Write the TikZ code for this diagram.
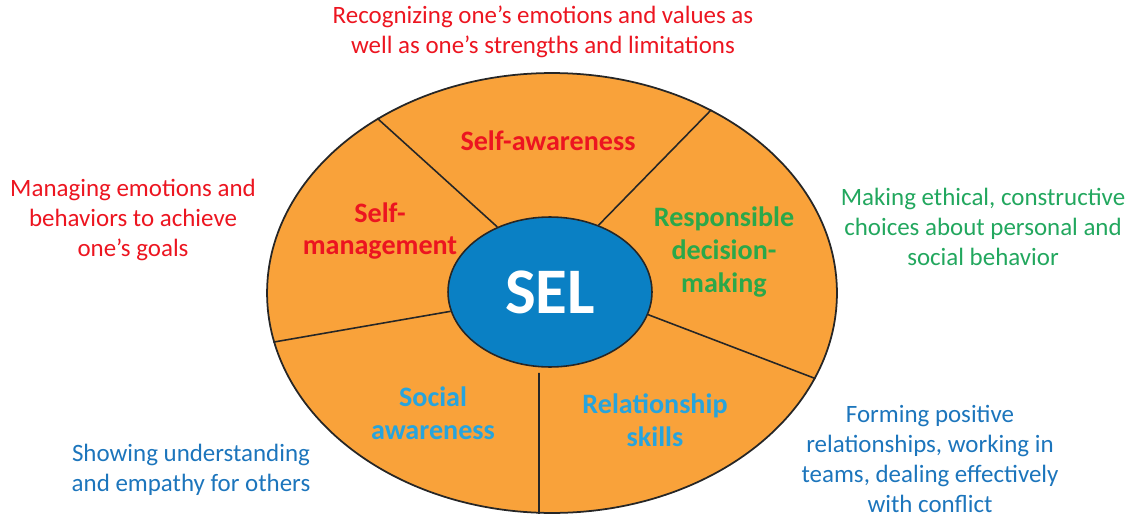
\documentclass[tikz,border=0pt]{standalone}
\usepackage{fontspec}
\setmainfont{Carlito}
\usepackage{tikz}
\usetikzlibrary{shapes.geometric}
\definecolor{wheelorange}{HTML}{F9A23A}
\definecolor{selblue}{HTML}{0A80C4}
\definecolor{selred}{HTML}{EC1520}
\definecolor{selgreen}{HTML}{2AA84A}
\definecolor{descgreen}{HTML}{22A75E}
\definecolor{selcyan}{HTML}{27A4DD}
\definecolor{descblue}{HTML}{1C75BC}
\tikzset{x=0.02cm, y=-0.02cm,
    desc/.style={align=center, font=\fontsize{14.2}{17}\selectfont},
    area/.style={align=center, font=\bfseries\fontsize{16}{18.7}\selectfont},
    spoke/.style={draw=black!85, line width=0.9pt}}

\begin{document}
\begin{tikzpicture}
    \useasboundingbox (0,0) rectangle (1131,517);
    \node[draw=black!85, line width=1pt, ellipse, fill=wheelorange, inner sep=0,
        minimum width=11.4cm, minimum height=8.8cm] (wheel) at (552,293) {};
    \node[draw=black!85, line width=0.9pt, ellipse, fill=selblue, inner sep=0,
        minimum width=4.08cm, minimum height=3cm, text=white,
        font=\bfseries\fontsize{37}{42}\selectfont] (sel) at (550,292) {SEL};
    \draw[spoke] (sel.129) -- (wheel.135);
    \draw[spoke] (sel.54) -- (wheel.49);
    \draw[spoke] (sel.191) -- (wheel.190.6);
    \draw[spoke] (sel.347) -- (wheel.342.5);
    \draw[spoke] ([shift={(-11,5)}]sel.south) -- ([xshift=-0.26cm]wheel.south);
    \node[area, text=selred] (aware) at (548,141) {Self-awareness};
    \node[area, text=selred] (manage) at (380,231) {Self-\\management};
    \node[area, text=selgreen] (decide) at (724,252) {Responsible\\decision-\\making};
    \node[area, text=selcyan] (social) at (433,413) {Social\\awareness};
    \node[area, text=selcyan] (relate) at (655,420) {Relationship\\skills};
    \node[desc, text=selred] (awaretxt) at (543,32)
        {Recognizing one’s emotions and values as\\well as one’s strengths and limitations};
    \node[desc, text=selred] (managetxt) at (133,220)
        {Managing emotions and\\behaviors to achieve\\one’s goals};
    \node[desc, text=descgreen] (decidetxt) at (983,227)
        {Making ethical, constructive\\choices about personal and\\social behavior};
    \node[desc, text=descblue] (socialtxt) at (191,470)
        {Showing understanding\\and empathy for others};
    \node[desc, text=descblue] (relatetxt) at (930,459)
        {Forming positive\\relationships, working in\\teams, dealing effectively\\with conflict};
\end{tikzpicture}
\end{document}
